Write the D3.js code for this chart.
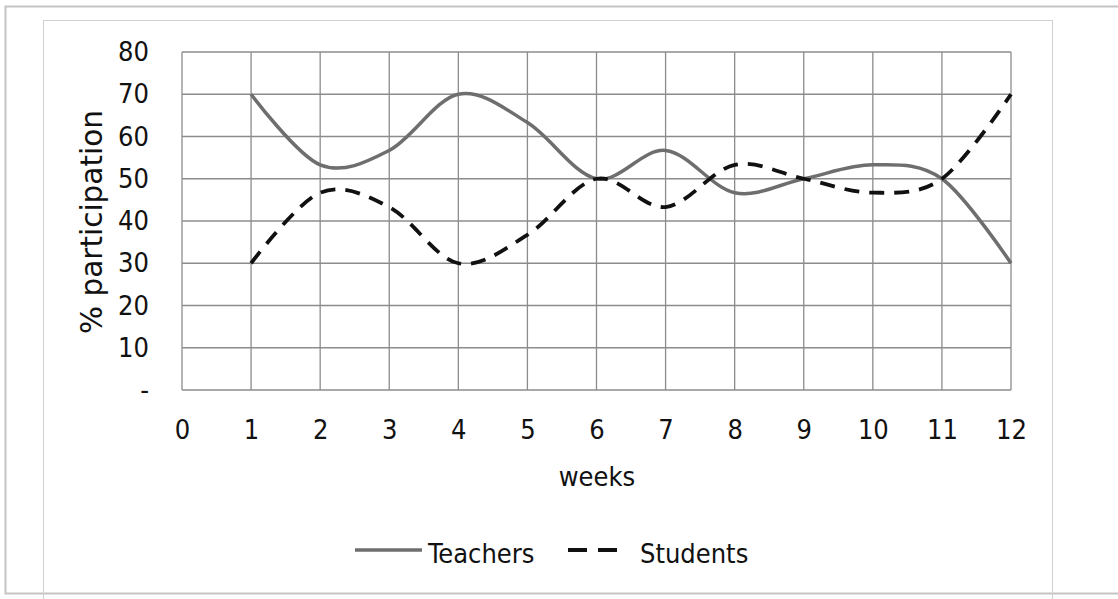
<!DOCTYPE html>
<html><head><meta charset="utf-8">
<script src="https://cdn.jsdelivr.net/npm/d3@7"></script>
<style>body{margin:0;background:#fff;}svg{display:block;}</style>
</head><body><svg id="c" width="1118" height="599"></svg>
<script>
const weeks = [1,2,3,4,5,6,7,8,9,10,11,12];
const teachers = [70,53.3,56.7,70,63.3,50,56.7,46.7,50,53.3,50,30];
const students = [30,46.7,43.3,30,36.7,50,43.3,53.3,50,46.7,50,70];
const xTicks = [0,1,2,3,4,5,6,7,8,9,10,11,12];
const yTicks = [0,10,20,30,40,50,60,70,80];
const yTickLabels = ["-","10","20","30","40","50","60","70","80"];
const seriesNames = ["Teachers","Students"];

const svg = d3.select("#c");
const FONT = "'DejaVu Sans Condensed','DejaVu Sans',sans-serif";
const FS = 27;
// outer frames
svg.append("rect").attr("x",5.5).attr("y",6.5).attr("width",1120).attr("height",587).attr("fill","none").attr("stroke","#c4c4c4").attr("stroke-width",2);
svg.append("rect").attr("x",43.5).attr("y",20.5).attr("width",1009).attr("height",580).attr("fill","none").attr("stroke","#d0d0d0").attr("stroke-width",1);

const x = d3.scaleLinear().domain([0,12]).range([182,1011]);
const y = d3.scaleLinear().domain([0,80]).range([390,52]);
const g = svg.append("g");
// grid
g.selectAll(".vg").data(xTicks).join("line").attr("x1",d=>x(d)).attr("x2",d=>x(d)).attr("y1",y(0)).attr("y2",y(80)).attr("stroke","#8c8c8c").attr("stroke-width",1.3);
g.selectAll(".hg").data(yTicks).join("line").attr("x1",x(0)).attr("x2",x(12)).attr("y1",d=>y(d)).attr("y2",d=>y(d)).attr("stroke","#8c8c8c").attr("stroke-width",1.3);

// axes via d3 axis (labels only)
const yAxis = g.append("g").attr("transform",`translate(${x(0)},0)`).call(d3.axisLeft(y).tickValues(yTicks).tickFormat((d,i)=>yTickLabels[i]).tickSize(0).tickPadding(33));
yAxis.select(".domain").remove();
yAxis.selectAll("text").attr("font-family",FONT).attr("font-size",FS).attr("fill","#111");
const xAxis = g.append("g").attr("transform",`translate(0,${y(0)})`).call(d3.axisBottom(x).tickValues(xTicks).tickFormat(d3.format("d")).tickSize(0).tickPadding(30));
xAxis.select(".domain").remove();
xAxis.selectAll("text").attr("font-family",FONT).attr("font-size",FS).attr("fill","#111");

svg.append("text").attr("transform",`translate(102,222) rotate(-90)`).attr("text-anchor","middle").attr("font-family","'DejaVu Sans',sans-serif").attr("font-size",29.5).attr("fill","#111").text("% participation");
svg.append("text").attr("x",597).attr("y",486).attr("text-anchor","middle").attr("font-family",FONT).attr("font-size",FS).attr("fill","#111").text("weeks");

const line = d3.line().x((d,i)=>x(weeks[i])).y(d=>y(d)).curve(d3.curveCardinal.tension(0));
g.append("path").attr("d",line(teachers)).attr("fill","none").attr("stroke","#6e6e6e").attr("stroke-width",3.5);
g.append("path").attr("d",line(students)).attr("fill","none").attr("stroke","#111").attr("stroke-width",3.8).attr("stroke-dasharray","15,10");

// legend
const lg = svg.append("g");
lg.append("line").attr("x1",355).attr("x2",422).attr("y1",550).attr("y2",550).attr("stroke","#6e6e6e").attr("stroke-width",3.5);
lg.append("text").attr("x",428).attr("y",563).attr("font-family",FONT).attr("font-size",FS).attr("fill","#111").text(seriesNames[0]);
lg.append("line").attr("x1",568).attr("x2",617).attr("y1",550).attr("y2",550).attr("stroke","#111").attr("stroke-width",4).attr("stroke-dasharray","19,11");
lg.append("text").attr("x",640).attr("y",563).attr("font-family",FONT).attr("font-size",FS).attr("fill","#111").text(seriesNames[1]);
</script></body></html>
